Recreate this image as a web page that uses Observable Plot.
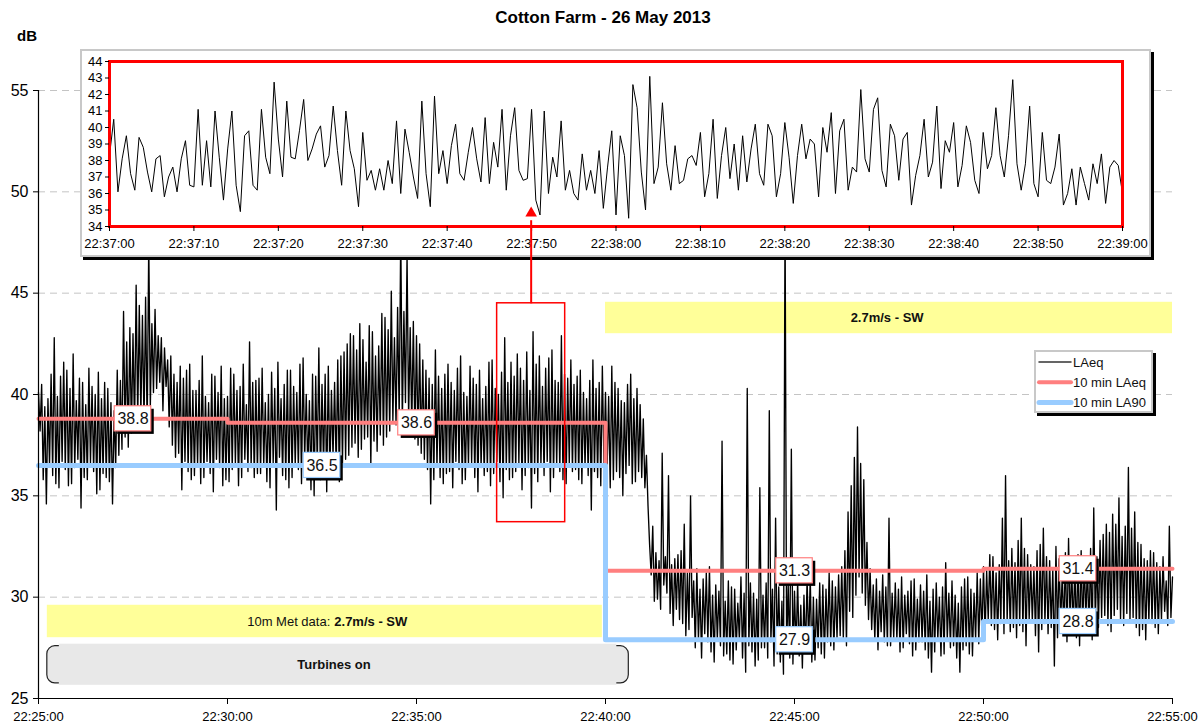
<!DOCTYPE html>
<html><head><meta charset="utf-8">
<script src="https://cdn.jsdelivr.net/npm/d3@7"></script>
<script src="https://cdn.jsdelivr.net/npm/@observablehq/plot@0.6"></script>
<style>
body{margin:0;background:#fff;}
#wrap{position:relative;width:1201px;height:726px;overflow:hidden;font-family:"Liberation Sans",Arial,Helvetica,sans-serif;}
#title{position:absolute;left:0;top:9px;width:1206px;text-align:center;font-weight:bold;font-size:17px;line-height:17px;color:#000}
#ylab{position:absolute;left:17px;top:28px;font-weight:bold;font-size:15px;line-height:15px;color:#000}
#main,#overlay{position:absolute;left:0;top:0}
#overlay{pointer-events:none}
#inset{position:absolute;left:80px;top:49px;border:2px solid #c8c8c8;background:#fff;box-shadow:3px 3px 0 #000;line-height:0}
#legend{position:absolute;left:1034px;top:350px;width:115px;height:59px;border:2px solid #c8c8c8;background:#fff;box-shadow:3px 3px 0 #000;}
</style></head>
<body>
<div id="wrap">
  <div id="main"></div>
  <div id="inset"></div>
  <div id="overlay"></div>
  <div id="legend"></div>
  <div id="title">Cotton Farm - 26 May 2013</div>
  <div id="ylab">dB</div>
</div>
<script>
// ---------- data ----------
const xTickLabels = ["22:25:00","22:30:00","22:35:00","22:40:00","22:45:00","22:50:00","22:55:00"];
const yTicks = [25, 30, 35, 40, 45, 50, 55];
const gridValues = [30, 35, 40, 45, 50, 55];
const insetXTickLabels = ["22:37:00","22:37:10","22:37:20","22:37:30","22:37:40","22:37:50","22:38:00",
  "22:38:10","22:38:20","22:38:30","22:38:40","22:38:50","22:39:00"];
const insetYTicks = [34, 35, 36, 37, 38, 39, 40, 41, 42, 43, 44];

// LAeq, 22:25:00 - 22:55:00, one reading every 2.5 s
const laeqStart = "22:25:00";
const laeqStepSec = 2.5;
const laeqValues = [
  40.1,38.2,40.5,35.8,39.4,34.6,39.8,36.5,41.0,36.0,42.8,35.6,39.9,35.4,40.9,36.7,41.6,36.3,41.2,35.5,
  40.3,35.6,42.0,36.4,39.7,36.8,40.8,34.4,40.6,35.9,39.5,35.8,41.3,36.6,40.4,36.2,40.0,35.1,41.1,35.3,
  39.8,36.1,40.6,35.9,40.3,35.7,39.6,34.6,39.2,36.4,41.2,37.0,40.7,37.3,44.1,37.9,42.6,37.4,43.3,38.1,
  43.0,38.3,45.4,38.8,44.4,39.0,43.9,38.6,44.8,38.2,47.5,39.4,43.5,40.1,44.2,40.3,42.9,40.6,42.8,39.2,
  42.3,40.4,41.7,38.4,41.9,37.5,41.0,36.9,40.6,37.1,41.4,35.3,40.8,36.7,41.2,36.2,41.5,35.8,40.2,36.0,
  40.2,36.5,40.7,35.6,41.9,35.9,39.9,36.7,39.6,36.1,41.0,35.2,40.9,36.8,40.1,36.4,41.4,35.5,39.8,35.8,
  39.9,35.7,41.3,36.3,41.0,36.6,40.2,35.5,40.4,35.9,41.5,36.8,39.5,36.2,42.6,36.4,40.6,35.9,40.7,36.1,
  40.8,36.1,41.3,36.5,39.6,35.7,40.0,35.4,41.1,36.6,40.3,34.3,41.6,36.9,39.8,36.0,40.5,35.8,41.2,35.4,
  41.2,35.9,40.4,36.5,40.1,36.3,41.5,35.6,41.8,36.8,40.0,36.2,39.7,35.3,41.0,35.0,40.9,36.4,42.3,35.8,
  40.5,36.4,41.0,35.2,41.4,36.0,40.2,36.9,40.6,36.3,41.7,35.7,41.9,36.6,42.1,36.8,42.5,37.0,43.0,37.4,
  42.9,37.6,42.2,36.9,43.5,37.3,42.7,37.8,41.6,37.9,43.4,36.5,43.1,37.7,41.9,37.2,42.4,38.0,44.0,37.5,
  43.8,37.9,43.2,38.2,45.1,38.7,42.8,38.5,44.3,38.9,48.0,38.6,44.1,39.6,46.9,38.8,43.3,38.4,43.6,37.8,
  42.9,37.5,42.5,37.1,41.7,36.8,41.2,36.3,40.8,34.6,40.5,35.8,42.2,36.4,40.9,35.9,40.3,35.6,41.0,36.1,
  41.5,36.2,40.6,35.4,40.2,36.7,41.3,36.3,41.9,35.6,40.1,35.8,39.9,36.5,41.4,36.6,40.8,35.9,40.5,35.2,
  41.2,36.4,39.8,36.0,40.4,36.2,41.6,35.5,41.7,36.1,40.3,36.7,40.0,35.7,41.1,34.9,42.8,36.3,40.6,35.8,
  41.6,35.9,40.9,36.2,42.0,36.6,41.3,35.3,40.7,36.0,42.1,36.4,40.2,34.4,43.1,36.1,41.5,35.7,41.9,36.5,
  40.4,36.0,41.3,36.7,41.8,35.2,42.2,35.9,40.7,36.5,40.6,36.2,42.9,35.8,41.0,35.6,40.8,36.6,41.7,36.2,
  40.5,36.3,40.9,35.8,41.2,35.6,40.1,36.4,39.8,36.0,40.7,34.3,41.7,36.2,40.3,35.9,40.6,35.5,41.4,36.6,
  40.1,36.3,39.9,35.4,41.4,35.8,40.6,36.2,40.3,35.9,39.7,35.0,39.6,36.1,40.5,36.5,41.0,35.6,39.8,35.7,
  40.3,36.2,39.5,35.9,38.8,35.4,37.0,34.5,32.6,31.1,33.5,29.8,32.2,29.9,31.8,29.4,37.1,30.6,32.0,30.2,
  36.0,29.2,31.6,28.6,31.9,29.4,32.1,28.9,32.3,28.7,33.6,28.1,31.2,28.4,35.0,29.0,30.8,27.5,31.4,27.9,
  30.4,27.0,30.9,28.2,31.2,27.8,31.5,27.3,30.1,26.8,30.6,27.9,30.3,27.6,37.7,27.1,29.8,27.2,30.8,26.9,
  30.5,26.7,30.4,27.4,29.7,27.9,31.0,27.0,30.2,26.3,40.3,27.6,30.7,27.3,30.2,26.6,29.9,26.9,35.4,27.5,
  30.1,27.5,30.7,27.0,39.2,27.8,30.4,26.6,33.9,27.2,30.5,26.8,29.8,26.2,49.0,27.4,30.6,27.0,37.3,26.7,
  30.3,27.4,30.8,27.1,29.6,26.5,30.1,27.3,30.9,27.7,31.0,26.8,30.0,26.9,29.9,27.5,30.7,27.2,30.6,27.0,
  30.4,27.8,31.2,27.6,30.8,27.4,30.5,28.0,31.1,28.1,31.5,27.9,32.3,27.6,34.2,29.3,35.5,29.0,36.9,30.1,
  38.4,31.0,36.6,30.2,35.8,29.6,32.7,28.9,31.4,28.4,30.6,27.9,30.9,27.4,30.3,28.3,31.1,27.8,30.5,27.6,
  33.9,27.6,30.2,28.0,30.7,27.9,30.4,27.3,31.0,27.5,30.1,28.2,30.3,27.7,30.8,27.1,30.9,27.4,29.9,27.8,
  30.6,27.8,30.3,27.4,31.1,27.0,29.8,26.3,30.4,27.3,30.7,27.9,30.0,27.1,30.5,27.2,31.7,27.9,30.2,27.5,
  30.8,27.6,30.1,27.0,29.7,26.3,30.5,27.4,30.9,27.6,31.0,27.2,30.4,27.1,30.2,27.9,31.2,27.7,30.9,28.1,
  31.5,28.1,31.3,28.9,32.1,28.6,32.0,28.4,31.2,27.9,31.6,28.7,33.9,28.2,36.0,28.8,31.8,28.3,32.4,28.5,
  31.7,28.0,32.8,28.6,33.9,28.3,32.4,27.6,32.1,28.9,31.6,28.8,31.5,28.1,32.3,27.3,32.6,28.4,33.4,28.7,
  32.0,28.2,31.8,28.5,31.4,26.6,32.5,28.0,31.9,28.7,31.2,28.3,32.2,27.8,32.9,28.6,31.5,28.4,31.6,28.0,
  32.1,27.6,32.3,28.4,31.8,28.9,31.7,28.2,32.4,27.9,34.4,28.8,32.0,28.5,32.8,29.0,33.1,29.1,33.6,28.6,
  33.2,28.3,34.1,29.1,33.6,29.4,34.9,28.9,33.0,28.6,33.5,29.2,36.4,28.8,33.4,29.0,34.2,28.5,32.7,28.1,
  32.6,28.4,31.9,27.9,31.8,28.8,32.3,28.7,32.2,28.5,31.7,28.2,31.5,28.9,32.0,29.3,30.8,28.6,33.5,29.0,
  31.0
];

// zoomed LAeq, 22:37:00 - 22:39:00, one reading every 0.5 s
const zoomStart = "22:37:00";
const zoomStepSec = 0.5;
const zoomValues = [
  38.3, 40.5, 36.1, 38.1, 39.5, 37.2, 36.2, 39.4, 38.8, 37.3,
  36.1, 38.1, 38.3, 35.8, 37.0, 37.6, 36.1, 38.1, 39.2, 36.5,
  36.4, 41.1, 36.5, 39.2, 36.4, 41.0, 38.2, 35.6, 38.7, 41.0,
  36.5, 34.9, 39.5, 39.8, 36.5, 36.2, 41.1, 38.2, 37.2, 42.75,
  39.3, 37.0, 41.6, 38.2, 38.1, 39.8, 41.7, 38.0, 38.7, 39.6,
  40.1, 37.6, 38.3, 41.3, 38.6, 36.5, 41.0, 38.6, 37.5, 35.2,
  39.7, 36.8, 37.4, 36.2, 37.5, 36.2, 38.0, 36.6, 40.4, 36.0,
  39.9, 38.5, 37.0, 35.7, 41.6, 37.2, 35.2, 41.9, 37.2, 38.6,
  36.6, 38.9, 40.2, 37.2, 36.8, 38.5, 40.0, 38.1, 36.7, 40.6,
  36.6, 39.1, 37.6, 41.1, 36.2, 39.5, 41.2, 37.4, 36.8, 36.9,
  41.1, 35.6, 34.7, 41.0, 36.0, 38.2, 37.0, 40.4, 36.2, 37.4,
  36.0, 35.6, 38.4, 36.2, 37.4, 36.0, 38.6, 35.1, 37.6, 39.8,
  34.7, 39.5, 38.3, 34.5, 42.6, 41.2, 37.3, 35.0, 43.1, 36.6,
  37.6, 41.5, 37.8, 36.2, 38.9, 36.6, 36.8, 38.1, 38.3, 37.7,
  39.7, 35.8, 37.2, 40.5, 35.7, 38.3, 40.0, 36.9, 39.0, 36.2,
  39.5, 36.7, 38.7, 40.2, 37.2, 36.5, 40.2, 39.5, 35.8, 37.2,
  40.3, 38.2, 35.4, 38.3, 40.2, 38.1, 39.3, 39.0, 35.8, 40.0,
  38.5, 40.9, 36.0, 39.8, 40.5, 36.2, 37.6, 37.3, 42.3, 38.1,
  37.3, 41.1, 41.8, 37.4, 36.4, 40.2, 39.5, 36.8, 39.3, 39.7,
  35.3, 37.1, 38.3, 40.5, 37.0, 37.9, 41.3, 36.3, 39.2, 38.5,
  40.3, 36.4, 37.7, 40.1, 39.1, 36.8, 36.0, 39.7, 37.5, 38.3,
  41.2, 38.3, 37.0, 39.5, 42.9, 37.8, 36.2, 37.8, 41.3, 36.6,
  35.8, 39.7, 36.8, 36.6, 37.6, 39.6, 35.3, 36.0, 37.5, 35.3,
  37.6, 36.6, 35.6, 37.8, 36.6, 38.4, 35.4, 37.6, 38.0, 37.7,
  36.0
];

// 10-minute values
const tenMinLAeqTimes  = ["22:25:00", "22:30:00", "22:40:00", "22:50:00", "22:55:00"];
const tenMinLAeqValues = [38.8, 38.6, 31.3, 31.4, 31.4];
const tenMinLA90Times  = ["22:25:00", "22:40:00", "22:50:00", "22:55:00"];
const tenMinLA90Values = [36.5, 27.9, 28.8, 28.8];

// value call-outs
const calloutTimes  = ["22:27:30", "22:35:00", "22:32:30", "22:45:00", "22:45:00", "22:52:30", "22:52:30"];
const calloutValues = [38.8, 38.6, 36.5, 31.3, 27.9, 31.4, 28.8];
const calloutSeries = ["LAeq", "LAeq", "LA90", "LAeq", "LA90", "LAeq", "LA90"];

// zoom window shown in the inset
const zoomWindowTimes = ["22:37:08", "22:38:56"];
const zoomWindowLevels = [33.7, 44.5];

// ---------- helpers ----------
const T = s => { const [h, m, sec] = s.split(":").map(Number); return new Date(Date.UTC(2013, 4, 26, h, m, sec)); };
const fmt = d3.utcFormat("%H:%M:%S");
const FONT = "'Liberation Sans', Arial, Helvetica, sans-serif";
const RED = "#ff7f7f", BLUE = "#99ccff";

const laeq = laeqValues.map((v, i) => ({t: new Date(+T(laeqStart) + i * laeqStepSec * 1000), v}));
const zoom = zoomValues.map((v, i) => ({t: new Date(+T(zoomStart) + i * zoomStepSec * 1000), v}));
const laeq10 = tenMinLAeqTimes.map((s, i) => ({t: T(s), v: tenMinLAeqValues[i]}));
const la90 = tenMinLA90Times.map((s, i) => ({t: T(s), v: tenMinLA90Values[i]}));
const callouts = calloutTimes.map((s, i) => ({t: T(s), v: calloutValues[i], s: calloutSeries[i]}));
const halfW = 29000, halfH = 0.62;

// annotation boxes (data coordinates)
const windTop = {a: T("22:40:00"), b: T("22:55:00"), lo: 43.0, hi: 44.55, mid: 43.78, c: T("22:47:27")};
const metBox = {a: T("22:25:14"), b: T("22:39:55"), lo: 28.0, hi: 29.6, mid: 28.8, c: T("22:32:40")};
const turbBox = {a: T("22:25:14"), b: T("22:40:37"), lo: 25.75, hi: 27.58, mid: 26.65, c: T("22:32:49")};
const zw = {a: T(zoomWindowTimes[0]), b: T(zoomWindowTimes[1]), lo: zoomWindowLevels[0], hi: zoomWindowLevels[1]};
const arrowT = new Date((+zw.a + +zw.b) / 2);

const xDomain = [T(xTickLabels[0]), T(xTickLabels[xTickLabels.length - 1])];
const dims = {width: 1201, height: 726, marginLeft: 38, marginRight: 29, marginTop: 90, marginBottom: 28};

// ---------- main chart ----------
const main = Plot.plot({
  ...dims,
  x: {type: "utc", domain: xDomain, label: null},
  y: {domain: [25, 55], label: null},
  style: {fontFamily: FONT, background: "white", color: "#000"},
  marks: [
    Plot.ruleY(gridValues, {stroke: "#c4c4c4", strokeDasharray: "7,5"}),
    Plot.rect([windTop, metBox], {x1: "a", x2: "b", y1: "lo", y2: "hi", fill: "#ffff99"}),
    Plot.text([windTop], {x: "c", y: "mid", text: d => "2.7m/s - SW", fontWeight: "bold", fontSize: 13, fill: "#111"}),
    Plot.text([metBox], {x: "c", y: "mid", text: d => "10m Met data:", textAnchor: "end", fontSize: 13, fill: "#111", dx: 2}),
    Plot.text([metBox], {x: "c", y: "mid", text: d => "2.7m/s - SW", textAnchor: "start", fontWeight: "bold", fontSize: 13, fill: "#111", dx: 6}),
    Plot.rect([turbBox], {x1: "a", x2: "b", y1: "lo", y2: "hi", fill: "#e8e8e8", stroke: "#222", strokeWidth: 1.2, rx: 8}),
    Plot.rect([turbBox], {x1: "a", x2: "b", y1: d => d.lo - 0.1, y2: d => d.hi + 0.1, fill: "#e8e8e8", insetLeft: 12, insetRight: 12}),
    Plot.text([turbBox], {x: "c", y: "mid", text: d => "Turbines on", fontWeight: "bold", fontSize: 13, fill: "#111"}),
    Plot.line(laeq, {x: "t", y: "v", stroke: "#000", strokeWidth: 1.35}),
    Plot.line(laeq10, {x: "t", y: "v", stroke: RED, strokeWidth: 4, curve: "step-after"}),
    Plot.line(la90, {x: "t", y: "v", stroke: BLUE, strokeWidth: 5, curve: "step-after"}),
    Plot.rect([zw], {x1: "a", x2: "b", y1: "lo", y2: "hi", fill: "none", stroke: "red", strokeWidth: 1.5}),
    Plot.rect(callouts, {x1: d => new Date(+d.t - halfW), x2: d => new Date(+d.t + halfW), y1: d => d.v - halfH, y2: d => d.v + halfH, fill: "#000", dx: 3, dy: 3}),
    Plot.rect(callouts, {x1: d => new Date(+d.t - halfW), x2: d => new Date(+d.t + halfW), y1: d => d.v - halfH, y2: d => d.v + halfH, fill: "#fff", stroke: d => d.s === "LAeq" ? RED : BLUE, strokeWidth: 1.2}),
    Plot.text(callouts, {x: "t", y: "v", text: d => d.v.toFixed(1), fontSize: 16, fill: "#111"}),
    Plot.ruleX([xDomain[0]], {stroke: "#000", strokeWidth: 1.2}),
    Plot.ruleY([25], {stroke: "#000", strokeWidth: 1.2}),
    Plot.axisY({ticks: yTicks, tickSize: 5, tickPadding: 5, fontSize: 16, label: null}),
    Plot.axisX({ticks: xTickLabels.map(T), tickFormat: fmt, tickSize: 6, tickPadding: 7, fontSize: 13, label: null})
  ]
});
document.getElementById("main").appendChild(main);

// ---------- inset ----------
const inset = Plot.plot({
  width: 1067, height: 204, marginLeft: 27, marginRight: 27, marginTop: 10, marginBottom: 29,
  x: {type: "utc", domain: [T(insetXTickLabels[0]), T(insetXTickLabels[insetXTickLabels.length - 1])], label: null},
  y: {domain: [34, 44], label: null},
  style: {fontFamily: FONT, background: "white", color: "#000"},
  marks: [
    Plot.line(zoom, {x: "t", y: "v", stroke: "#000", strokeWidth: 1}),
    Plot.frame({stroke: "red", strokeWidth: 3}),
    Plot.axisY({ticks: insetYTicks, tickSize: 4, tickPadding: 3, fontSize: 13, label: null}),
    Plot.axisX({ticks: insetXTickLabels.map(T), tickFormat: fmt, tickSize: 5, tickPadding: 7, fontSize: 13, label: null})
  ]
});
document.getElementById("inset").appendChild(inset);

// ---------- arrow overlay ----------
const overlay = Plot.plot({
  ...dims,
  x: {type: "utc", domain: xDomain, axis: null},
  y: {domain: [25, 55], axis: null},
  style: {background: "transparent"},
  marks: [
    Plot.link([{t: arrowT, y1: zw.hi, y2: 48.6}], {x1: "t", x2: "t", y1: "y1", y2: "y2", stroke: "red", strokeWidth: 2}),
    Plot.dot([{t: arrowT, y: 48.95}], {x: "t", y: "y", symbol: "triangle", r: 4.3, fill: "red", stroke: "none"})
  ]
});
document.getElementById("overlay").appendChild(overlay);

// ---------- legend ----------
const legendItems = [
  {label: "LAeq", color: "#333", w: 1.5},
  {label: "10 min LAeq", color: RED, w: 4},
  {label: "10 min LA90", color: BLUE, w: 5}
];
const lg = d3.select("#legend").append("svg").attr("width", 115).attr("height", 59).style("display", "block");
legendItems.forEach((it, i) => {
  const y = 10 + i * 20.3;
  lg.append("line").attr("x1", 3).attr("x2", 35).attr("y1", y).attr("y2", y)
    .attr("stroke", it.color).attr("stroke-width", it.w).attr("stroke-linecap", "round");
  lg.append("text").attr("x", 37).attr("y", y + 4.6).attr("font-size", 13)
    .attr("font-family", FONT).attr("fill", "#111").text(it.label);
});
</script>
</body></html>
